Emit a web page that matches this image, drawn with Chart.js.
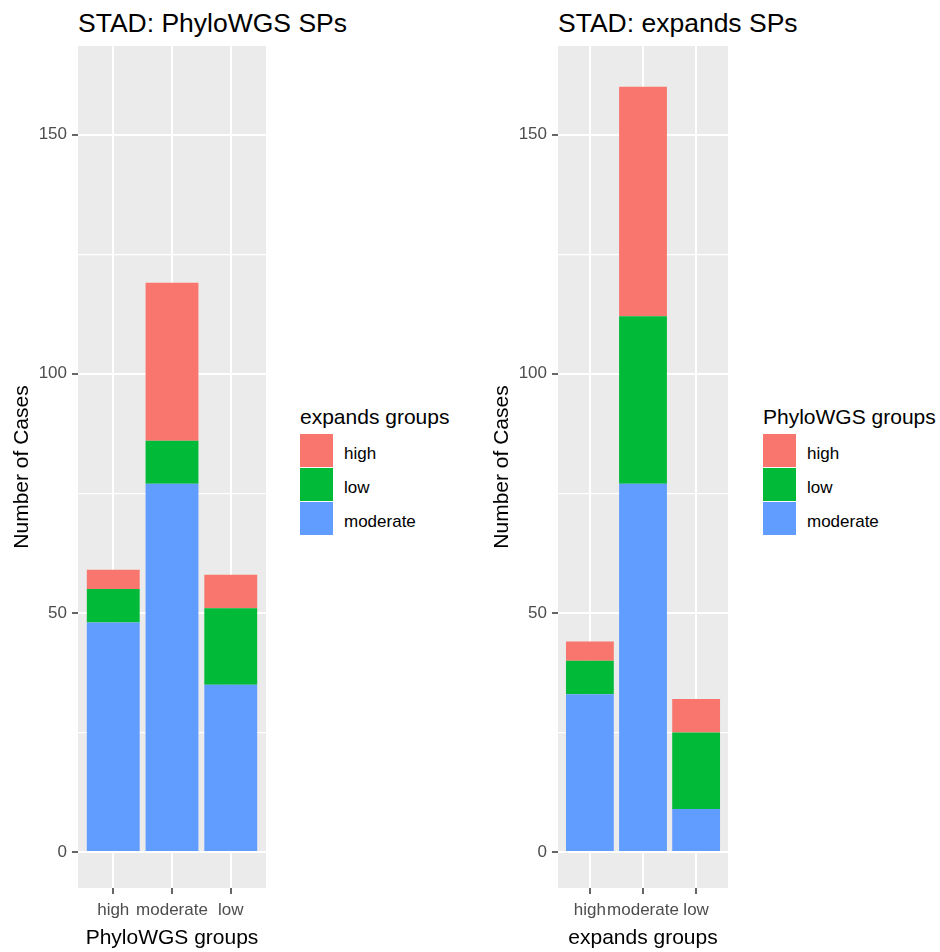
<!DOCTYPE html>
<html>
<head>
<meta charset="utf-8">
<script src="https://cdn.jsdelivr.net/npm/chart.js@4.4.0/dist/chart.umd.min.js"></script>
<style>
body { margin: 0; background: #fff; font-family: "Liberation Sans", Arial, sans-serif; }
#wrap { position: relative; width: 940px; height: 952px; overflow: hidden; }
canvas { position: absolute; top: 0; }
.title { position: absolute; top: 8px; font-size: 26.5px; line-height: 30px; color: #000; white-space: nowrap; }
.lt { position: absolute; font-size: 21px; line-height: 24px; color: #000; white-space: nowrap; }
.key { position: absolute; width: 33px; height: 33px; }
.kl { position: absolute; font-size: 17px; line-height: 33px; color: #000; white-space: nowrap; }
</style>
</head>
<body>
<div id="wrap">
  <div class="title" style="left:78px">STAD: PhyloWGS SPs</div>
  <div class="title" style="left:558px">STAD: expands SPs</div>
  <canvas id="left" width="280" height="952" style="left:0px"></canvas>
  <canvas id="right" width="260" height="952" style="left:480px"></canvas>
  <div id="legLeft"></div>
  <div id="legRight"></div>
</div>
<script>
// x categories
var phyloGroups = ['high', 'moderate', 'low'];
var expandsGroups = ['high', 'moderate', 'low'];
// fill groups (legend order)
var fillLevels = ['high', 'low', 'moderate'];
var fillColors = ['#F8766D', '#00BA38', '#619CFF'];

// left panel: cases per PhyloWGS group, split by expands group
var leftHigh = [4, 33, 7];
var leftLow = [7, 9, 16];
var leftModerate = [48, 77, 35];

// right panel: cases per expands group, split by PhyloWGS group
var rightHigh = [4, 48, 7];
var rightLow = [7, 35, 16];
var rightModerate = [33, 77, 9];

var yTicks = [0, 25, 50, 75, 100, 125, 150];
var yMin = -7.5, yMax = 168.5;

var panelBg = {
    id: 'panelBg',
    beforeDraw: function(chart) {
        var a = chart.chartArea, ctx = chart.ctx;
        ctx.save();
        ctx.fillStyle = '#EBEBEB';
        ctx.fillRect(a.left, a.top, a.right - a.left, a.bottom - a.top);
        ctx.restore();
    }
};

var makeChart = function(id, cats, high, low, moderate, xTitle, padRight) {
    var toPts = function(arr) {
        return arr.map(function(v, i) { return {x: i + 1, y: v}; });
    };
    var series = [moderate, low, high];
    var colors = [fillColors[2], fillColors[1], fillColors[0]];
    var names = [fillLevels[2], fillLevels[1], fillLevels[0]];
    var datasets = [];
    for (var i = 0; i < series.length; i++) {
        datasets.push({
            label: names[i],
            data: toPts(series[i]),
            backgroundColor: colors[i],
            borderWidth: 0,
            barPercentage: 0.9,
            categoryPercentage: 1.0
        });
    }
    return new Chart(document.getElementById(id), {
        type: 'bar',
        data: { datasets: datasets },
        plugins: [panelBg],
        options: {
            responsive: false,
            animation: false,
            layout: { padding: { top: 46, right: padRight, left: 0, bottom: 0 } },
            plugins: { legend: { display: false }, tooltip: { enabled: false } },
            scales: {
                x: {
                    type: 'linear',
                    min: 0.4,
                    max: 3.6,
                    offset: false,
                    stacked: true,
                    afterBuildTicks: function(scale) {
                        scale.ticks = cats.map(function(c, i) { return {value: i + 1}; });
                    },
                    afterFit: function(scale) { scale.height = 64; },
                    border: { display: false },
                    grid: { offset: false, color: '#FFFFFF', lineWidth: 2, tickColor: '#333333', tickLength: 6, tickWidth: 1.5 },
                    ticks: {
                        autoSkip: false, maxRotation: 0, minRotation: 0, padding: 6,
                        color: '#4D4D4D', font: { family: 'Liberation Sans', size: 17 },
                        callback: function(v) { return cats[Math.round(v) - 1]; }
                    },
                    title: {
                        display: true, text: xTitle, color: '#000',
                        font: { family: 'Liberation Sans', size: 21 },
                        padding: { top: 0, bottom: 1 }
                    }
                },
                y: {
                    min: yMin,
                    max: yMax,
                    stacked: true,
                    afterBuildTicks: function(scale) {
                        scale.ticks = yTicks.map(function(v) { return {value: v}; });
                    },
                    afterFit: function(scale) { scale.width = 78; },
                    border: { display: false },
                    grid: {
                        color: '#FFFFFF',
                        lineWidth: function(c) { return c.tick && c.tick.value % 50 === 0 ? 2 : 1.2; },
                        tickColor: function(c) { return c.tick && c.tick.value % 50 === 0 ? '#333333' : 'rgba(0,0,0,0)'; },
                        tickLength: 6, tickWidth: 1.5
                    },
                    ticks: {
                        padding: 5, color: '#4D4D4D', font: { family: 'Liberation Sans', size: 17 },
                        callback: function(v) { return v % 50 === 0 ? v : ''; }
                    },
                    title: {
                        display: true, text: 'Number of Cases', color: '#000',
                        font: { family: 'Liberation Sans', size: 21 },
                        padding: { top: 10, bottom: 0 }
                    }
                }
            }
        }
    });
};

var makeLegend = function(id, title, left) {
    var el = document.getElementById(id);
    var html = '<div class="lt" style="left:' + left + 'px;top:405px">' + title + '</div>';
    for (var i = 0; i < fillLevels.length; i++) {
        var top = 434 + i * 34;
        html += '<div class="key" style="left:' + left + 'px;top:' + top + 'px;background:' + fillColors[i] + '"></div>';
        html += '<div class="kl" style="left:' + (left + 44) + 'px;top:' + (top + 3) + 'px">' + fillLevels[i] + '</div>';
    }
    el.innerHTML = html;
};

makeChart('left', phyloGroups, leftHigh, leftLow, leftModerate, 'PhyloWGS groups', 14);
makeChart('right', expandsGroups, rightHigh, rightLow, rightModerate, 'expands groups', 12);
makeLegend('legLeft', 'expands groups', 300);
makeLegend('legRight', 'PhyloWGS groups', 763);
</script>
</body>
</html>
